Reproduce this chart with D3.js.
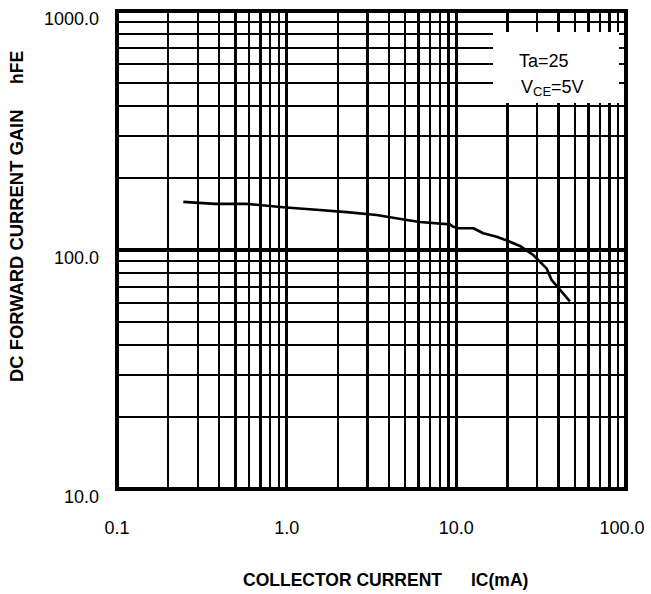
<!DOCTYPE html>
<html>
<head>
<meta charset="utf-8">
<script src="https://cdn.jsdelivr.net/npm/d3@7"></script>
<style>
  body { margin: 0; background: #fff; }
  text { font-family: "Liberation Sans", Arial, sans-serif; fill: #000; }
</style>
</head>
<body>
<svg id="chart" width="651" height="594"></svg>
<script>
// collector current IC (mA) vs DC forward current gain hFE
const icValues = [0.246, 0.378, 0.581, 0.95, 1.37, 2.26, 3.39, 5.1, 6.1, 9.17, 9.6, 10.3, 12.6, 14.4, 17.3, 20.2, 23.7, 28.4, 34.0, 36.4, 46.7];
const hfeValues = [159, 156, 156, 151, 148, 144, 140, 133.5, 131, 128, 125, 123.3, 123.3, 117.5, 113.6, 109, 104, 95.3, 83.8, 75, 61];

const xTickLabels = ["0.1", "1.0", "10.0", "100.0"];
const yTickLabels = ["10.0", "100.0", "1000.0"];
const legendLines = ["Ta=25", "VCE=5V"];

const svg = d3.select("#chart");

const plotLeft = 117, plotRight = 626, plotTop = 11, plotBottom = 489;

const xScale = d3.scaleLog().domain([0.1, 100]).range([plotLeft, plotRight]);
const yScale = d3.scaleLog().domain([10, 1000]).range([plotBottom, plotTop]);

/** every 1..9 step per decade makes the grid */
const xGrid = [];
[0.1, 1, 10].forEach(d => { for (let k = 1; k < 10; k++) xGrid.push(+(d * k).toPrecision(3)); });
xGrid.push(100);
const yGrid = [];
[10, 100].forEach(d => { for (let k = 1; k < 10; k++) yGrid.push(d * k); });
yGrid.push(1000);

const isMajor = v => Math.abs(Math.log10(v) - Math.round(Math.log10(v))) < 1e-9;

const grid = svg.append("g").attr("shape-rendering", "crispEdges");

grid.selectAll(".vx")
  .data(xGrid)
  .enter()
  .append("line")
  .attr("x1", d => xScale(d))
  .attr("x2", d => xScale(d))
  .attr("y1", plotTop)
  .attr("y2", plotBottom)
  .attr("stroke", "#000")
  .attr("stroke-width", d => isMajor(d) ? 3.6 : 2.4);

grid.selectAll(".hy")
  .data(yGrid)
  .enter()
  .append("line")
  .attr("y1", d => yScale(d))
  .attr("y2", d => yScale(d))
  .attr("x1", plotLeft)
  .attr("x2", plotRight)
  .attr("stroke", "#000")
  .attr("stroke-width", d => isMajor(d) ? 3.6 : 2.4);

// border
svg.append("rect")
  .attr("x", plotLeft)
  .attr("y", plotTop)
  .attr("width", plotRight - plotLeft)
  .attr("height", plotBottom - plotTop)
  .attr("fill", "none")
  .attr("stroke", "#000")
  .attr("stroke-width", 4)
  .attr("shape-rendering", "crispEdges");

// tick labels
svg.selectAll(".xl")
  .data(xTickLabels)
  .enter()
  .append("text")
  .attr("x", d => xScale(+d) - (+d === 100 ? 4 : 0))
  .attr("y", 534)
  .attr("text-anchor", "middle")
  .attr("font-size", 18)
  .text(d => d);

svg.selectAll(".yl")
  .data(yTickLabels)
  .enter()
  .append("text")
  .attr("x", 99)
  .attr("y", d => yScale(+d) + 14)
  .attr("text-anchor", "end")
  .attr("font-size", 18)
  .text(d => d);

// curve
const line = d3.line()
  .x((d, i) => xScale(icValues[i]))
  .y(d => yScale(d));

svg.append("path")
  .datum(hfeValues)
  .attr("d", line)
  .attr("fill", "none")
  .attr("stroke", "#000")
  .attr("stroke-width", 2.6)
  .attr("stroke-linejoin", "round");

// legend box
svg.append("rect")
  .attr("x", 493)
  .attr("y", 32)
  .attr("width", 126)
  .attr("height", 71)
  .attr("fill", "#fff");

svg.append("text")
  .attr("x", 519)
  .attr("y", 67)
  .attr("font-size", 18)
  .text(legendLines[0]);

const vce = svg.append("text")
  .attr("x", 521)
  .attr("y", 93)
  .attr("font-size", 18);
vce.append("tspan").text(legendLines[1].slice(0, 1));
vce.append("tspan").attr("font-size", 13).attr("dy", 3).text(legendLines[1].slice(1, 3));
vce.append("tspan").attr("dy", -3).text(legendLines[1].slice(3));

// axis titles
svg.append("text")
  .attr("x", 243)
  .attr("y", 586)
  .attr("font-size", 17.5)
  .attr("font-weight", "bold")
  .text("COLLECTOR CURRENT");
svg.append("text")
  .attr("x", 471)
  .attr("y", 586)
  .attr("font-size", 17.5)
  .attr("font-weight", "bold")
  .text("IC(mA)");

svg.append("text")
  .attr("transform", "translate(23, 382) rotate(-90)")
  .attr("font-size", 18.4)
  .attr("font-weight", "bold")
  .text("DC FORWARD CURRENT GAIN");
svg.append("text")
  .attr("transform", "translate(23, 84) rotate(-90)")
  .attr("font-size", 17.5)
  .attr("font-weight", "bold")
  .text("hFE");
</script>
</body>
</html>
